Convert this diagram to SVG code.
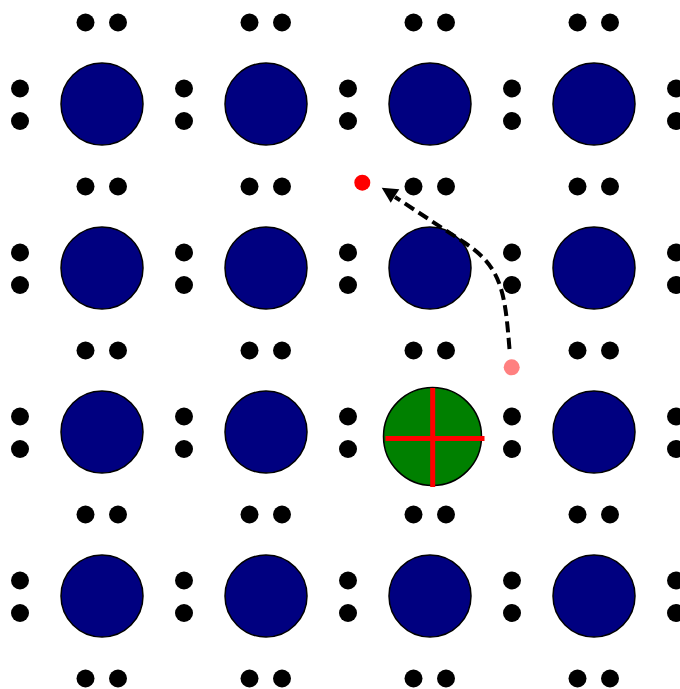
<svg xmlns="http://www.w3.org/2000/svg" xmlns:xlink="http://www.w3.org/1999/xlink" width="680" height="689" viewBox="0 0 680 689">
<style>
.big{fill:#000080;stroke:#000;stroke-width:1.5}
.dot{fill:#000}
.green{fill:#008000;stroke:#000;stroke-width:1.5}
.cross{stroke:#ff0000;stroke-width:5;fill:none}
.conn{fill:none;stroke:#000;stroke-width:4;stroke-dasharray:11,5.5}
</style>
<defs>
<g id="hpair"><circle class="dot" cx="0" cy="0" r="9"/><circle class="dot" cx="32.5" cy="0" r="9"/></g>
<g id="vpair"><circle class="dot" cx="0" cy="0" r="9"/><circle class="dot" cx="0" cy="32.5" r="9"/></g>
</defs>
<g id="dots">
<use xlink:href="#hpair" x="85.5" y="22.5"/><use xlink:href="#hpair" x="249.5" y="22.5"/><use xlink:href="#hpair" x="413.5" y="22.5"/><use xlink:href="#hpair" x="577.5" y="22.5"/>
<use xlink:href="#hpair" x="85.5" y="186.5"/><use xlink:href="#hpair" x="249.5" y="186.5"/><use xlink:href="#hpair" x="413.5" y="186.5"/><use xlink:href="#hpair" x="577.5" y="186.5"/>
<use xlink:href="#hpair" x="85.5" y="350.5"/><use xlink:href="#hpair" x="249.5" y="350.5"/><use xlink:href="#hpair" x="413.5" y="350.5"/><use xlink:href="#hpair" x="577.5" y="350.5"/>
<use xlink:href="#hpair" x="85.5" y="514.5"/><use xlink:href="#hpair" x="249.5" y="514.5"/><use xlink:href="#hpair" x="413.5" y="514.5"/><use xlink:href="#hpair" x="577.5" y="514.5"/>
<use xlink:href="#hpair" x="85.5" y="678.5"/><use xlink:href="#hpair" x="249.5" y="678.5"/><use xlink:href="#hpair" x="413.5" y="678.5"/><use xlink:href="#hpair" x="577.5" y="678.5"/>
<use xlink:href="#vpair" x="20" y="88.5"/><use xlink:href="#vpair" x="184" y="88.5"/><use xlink:href="#vpair" x="348" y="88.5"/><use xlink:href="#vpair" x="512" y="88.5"/><use xlink:href="#vpair" x="676" y="88.5"/>
<use xlink:href="#vpair" x="20" y="252.5"/><use xlink:href="#vpair" x="184" y="252.5"/><use xlink:href="#vpair" x="348" y="252.5"/><use xlink:href="#vpair" x="512" y="252.5"/><use xlink:href="#vpair" x="676" y="252.5"/>
<use xlink:href="#vpair" x="20" y="416.5"/><use xlink:href="#vpair" x="184" y="416.5"/><use xlink:href="#vpair" x="348" y="416.5"/><use xlink:href="#vpair" x="512" y="416.5"/><use xlink:href="#vpair" x="676" y="416.5"/>
<use xlink:href="#vpair" x="20" y="580.5"/><use xlink:href="#vpair" x="184" y="580.5"/><use xlink:href="#vpair" x="348" y="580.5"/><use xlink:href="#vpair" x="512" y="580.5"/><use xlink:href="#vpair" x="676" y="580.5"/>
</g>
<g id="n-r0c0"><circle class="big" cx="102" cy="104" r="41"/></g>
<g id="n-r0c1"><circle class="big" cx="266" cy="104" r="41"/></g>
<g id="n-r0c2"><circle class="big" cx="430" cy="104" r="41"/></g>
<g id="n-r0c3"><circle class="big" cx="594" cy="104" r="41"/></g>
<g id="n-r1c0"><circle class="big" cx="102" cy="268" r="41"/></g>
<g id="n-r1c1"><circle class="big" cx="266" cy="268" r="41"/></g>
<g id="n-r1c2"><circle class="big" cx="430" cy="268" r="41"/></g>
<g id="n-r1c3"><circle class="big" cx="594" cy="268" r="41"/></g>
<g id="n-r2c0"><circle class="big" cx="102" cy="432" r="41"/></g>
<g id="n-r2c1"><circle class="big" cx="266" cy="432" r="41"/></g>
<g id="n-r2c2"><circle class="green" cx="432.5" cy="436.5" r="49"/><line class="cross" x1="432.7" y1="388" x2="432.7" y2="487"/><line class="cross" x1="385.5" y1="438.5" x2="484.5" y2="438.5"/></g>
<g id="n-r2c3"><circle class="big" cx="594" cy="432" r="41"/></g>
<g id="n-r3c0"><circle class="big" cx="102" cy="596" r="41"/></g>
<g id="n-r3c1"><circle class="big" cx="266" cy="596" r="41"/></g>
<g id="n-r3c2"><circle class="big" cx="430" cy="596" r="41"/></g>
<g id="n-r3c3"><circle class="big" cx="594" cy="596" r="41"/></g>
<g id="n-target"><circle cx="362.3" cy="182.7" r="8" fill="#ff0000"/></g>
<g id="n-source"><circle cx="511.7" cy="367.3" r="8" fill="#ff8080"/></g>
<g id="connectors">
<path class="conn" d="M509.5,349 C505,295 503,268 465,243 L395,197"/>
<path d="M381.7,187.7 L399.3,189.3 L390.7,202.7 Z" fill="#000"/>
</g>
</svg>
